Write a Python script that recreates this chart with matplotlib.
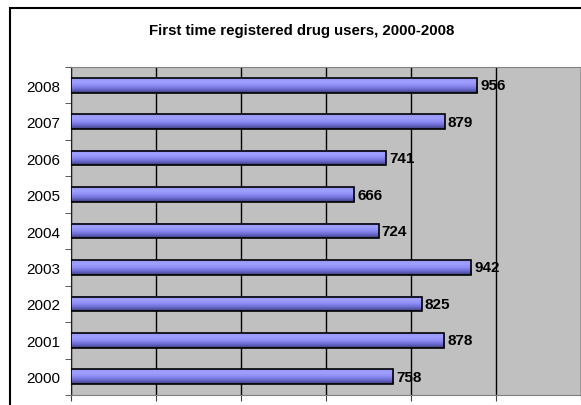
import numpy as np
import matplotlib.pyplot as plt
from matplotlib.patches import Rectangle
from matplotlib.colors import LinearSegmentedColormap

plt.rcParams['font.family'] = ['Liberation Sans', 'DejaVu Sans']

years = ['2000', '2001', '2002', '2003', '2004', '2005', '2006', '2007', '2008']
users = [758, 878, 825, 942, 724, 666, 741, 879, 956]
title = 'First time registered drug users, 2000-2008'

W, H = 581, 406
fig = plt.figure(figsize=(W / 100, H / 100), dpi=100)
fig.patch.set_facecolor('white')

# plot area in pixels: left 71, top 68, bottom 396, right runs to the edge
ax = fig.add_axes([71 / W, (H - 396) / H, 1 - 71 / W, (396 - 68) / H])
ax.set_facecolor('#C0C0C0')

# vertical gradient of the bars, light on top, dark at bottom
grad = LinearSegmentedColormap.from_list(
    'bar', ['#3c3c78', '#6a6ad0', '#8c8cf4', '#a0a0ff', '#9696f8'])
g = np.linspace(0, 1, 64).reshape(-1, 1)

bh = 0.4
ypos = np.arange(len(years))
for y, v in zip(ypos, users):
    ax.imshow(g, cmap=grad, aspect='auto', origin='lower',
              extent=[0, v, y - bh / 2, y + bh / 2], zorder=3)
ax.barh(ypos, users, height=bh, facecolor='none', edgecolor='black',
        linewidth=1.2, zorder=4)

for y, v in zip(ypos, users):
    ax.text(v + 7, y, str(v), ha='left', va='center', fontsize=11,
            fontweight='bold', zorder=5)

ax.set_xlim(0, 1200)
ax.set_ylim(-0.5, len(years) - 0.5)
ax.set_xticks(np.arange(0, 1201, 200))
ax.set_xticklabels([])
ax.xaxis.grid(True, color='black', linewidth=1)
ax.set_axisbelow(True)

ax.set_yticks(ypos)
ax.set_yticklabels(years, fontsize=11)
ax.set_yticks(np.arange(-0.5, len(years), 1), minor=True)
ax.tick_params(axis='y', which='major', length=0, pad=8)
ax.tick_params(axis='y', which='minor', length=4, color='#404040')
ax.tick_params(axis='x', length=4, color='#404040')

for s in ['top', 'bottom']:
    ax.spines[s].set_color('#808080')
ax.spines['right'].set_visible(False)
ax.spines['left'].set_color('#202020')

fig.text(302 / W, 1 - 31 / H, title, ha='center', va='center',
         fontsize=10.8, fontweight='bold')

# outer chart border (cut by the image edges)
fig.patches.append(Rectangle((10 / W, -0.1), 2, 1 - 9 / H + 0.1,
                             transform=fig.transFigure, fill=False,
                             edgecolor='black', linewidth=1.5))

fig.savefig('out.png', dpi=100)
